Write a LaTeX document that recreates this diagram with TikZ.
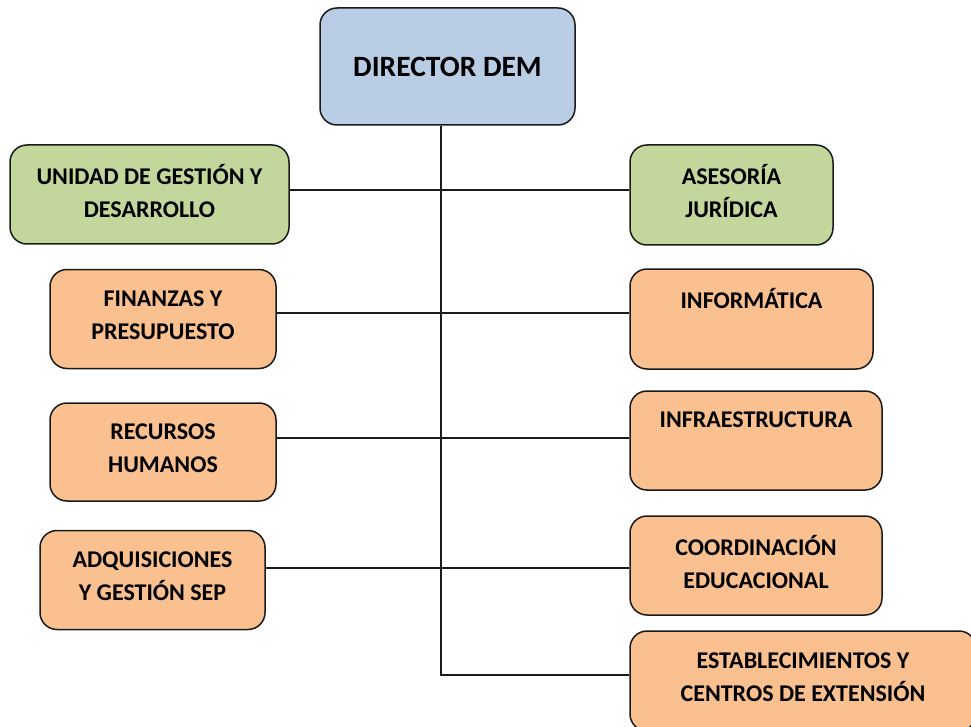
\documentclass[tikz,border=0pt]{standalone}
\usepackage{fontspec}
\setmainfont{Carlito}
\definecolor{boxblue}{HTML}{B9CDE5}
\definecolor{boxgreen}{HTML}{C3D69B}
\definecolor{boxorange}{HTML}{FAC090}
\definecolor{edge}{HTML}{1A1A1A}
\begin{document}
\begin{tikzpicture}[x=1pt,y=-1pt,
  box/.style={rectangle, rounded corners=17pt, draw=edge, line width=1.5pt,
    align=center, inner sep=0pt, text depth=8pt, font=\bfseries\fontsize{24}{33}\selectfont},
  conn/.style={draw=edge, line width=1.5pt}]
\clip (0,0) rectangle (971,727);
\useasboundingbox (0,0) rectangle (971,727);
% boxes
\node[box, fill=boxblue, minimum width=255pt, minimum height=117pt, text depth=0pt,
  font=\bfseries\fontsize{29.5}{33}\selectfont] (dir) at (447.5,66.5) {DIRECTOR DEM};
\node[box, fill=boxgreen, minimum width=279pt, minimum height=99pt] (uni) at (149.5,194.5) {UNIDAD DE GESTIÓN Y\\DESARROLLO};
\node[box, fill=boxgreen, minimum width=203pt, minimum height=100pt] (ase) at (731.5,195) {ASESORÍA\\JURÍDICA};
\node[box, fill=boxorange, minimum width=226pt, minimum height=99pt] (fin) at (163,319) {FINANZAS Y\\PRESUPUESTO};
\node[box, fill=boxorange, minimum width=243pt, minimum height=100pt] (inf) at (751.5,319) {INFORMÁTICA\\\mbox{}};
\node[box, fill=boxorange, minimum width=226pt, minimum height=98pt] (rec) at (163,452) {RECURSOS\\HUMANOS};
\node[box, fill=boxorange, minimum width=252pt, minimum height=99pt] (infra) at (756,440.5) {INFRAESTRUCTURA\\\mbox{}};
\node[box, fill=boxorange, minimum width=225pt, minimum height=99pt] (adq) at (152.5,580) {ADQUISICIONES\\Y GESTIÓN SEP};
\node[box, fill=boxorange, minimum width=252pt, minimum height=99pt] (coo) at (756,565.5) {COORDINACIÓN\\EDUCACIONAL};
\node[box, fill=boxorange, minimum width=346pt, minimum height=100pt] (est) at (803,681) {ESTABLECIMIENTOS Y\\CENTROS DE EXTENSIÓN};
% junction coordinates on the trunk
\coordinate (j1) at (441,190);
\coordinate (j2) at (441,313);
\coordinate (j3) at (441,438);
\coordinate (j4) at (441,568);
\coordinate (j5) at (441,675);
% connectors
\draw[conn] (dir.south -| j5) -- (j5) -- (est.west |- j5);
\draw[conn] (uni.east |- j1) -- (ase.west |- j1);
\draw[conn] (fin.east |- j2) -- (inf.west |- j2);
\draw[conn] (rec.east |- j3) -- (infra.west |- j3);
\draw[conn] (adq.east |- j4) -- (coo.west |- j4);
\end{tikzpicture}
\end{document}
